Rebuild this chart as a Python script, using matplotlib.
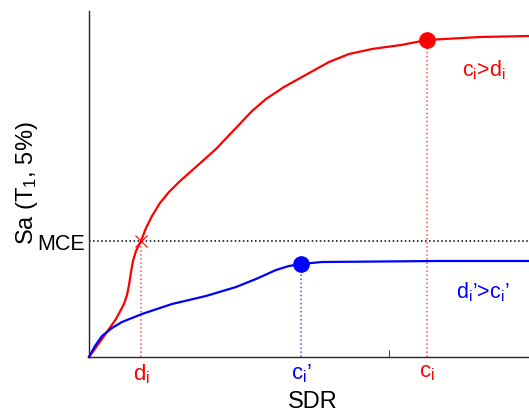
import numpy as np
import matplotlib
matplotlib.use('Agg')
import matplotlib.pyplot as plt

plt.rcParams['font.family'] = ['Liberation Sans', 'DejaVu Sans']
plt.rcParams['mathtext.fontset'] = 'custom'
plt.rcParams['mathtext.rm'] = 'Liberation Sans'
plt.rcParams['mathtext.it'] = 'Liberation Sans'
plt.rcParams['mathtext.default'] = 'regular'

# curves (arbitrary SDR / Sa units)
sdr_red = [0, 0.217, 0.45, 0.583, 0.633, 0.667, 0.70, 0.733, 0.783, 0.867, 0.95, 1.05,
           1.183, 1.333, 1.5, 1.8, 2.117, 2.417, 2.717, 2.95, 3.25, 3.55, 4.0, 4.333,
           4.717, 5.2, 5.633, 6.517, 7.333]
sa_red = [0, 0.18, 0.38, 0.53, 0.62, 0.72, 0.85, 0.96, 1.06, 1.16, 1.29, 1.41,
          1.54, 1.65, 1.75, 1.91, 2.08, 2.27, 2.46, 2.58, 2.70, 2.80, 2.95, 3.03,
          3.08, 3.12, 3.17, 3.20, 3.21]

sdr_blue = [0, 0.1, 0.217, 0.383, 0.55, 0.883, 1.383, 1.95, 2.45, 2.783, 3.117, 3.333,
            3.533, 3.883, 5.833, 7.333]
sa_blue = [0, 0.11, 0.21, 0.29, 0.35, 0.43, 0.53, 0.61, 0.70, 0.78, 0.87, 0.91,
           0.93, 0.95, 0.96, 0.96]

sa_mce = 1.16
d_i = 0.867     # red curve crosses MCE
c_i = 5.633     # red collapse point
c_ip = 3.533    # blue collapse point
sa_ci = 3.17
sa_cip = 0.93

fig = plt.figure(figsize=(5.29, 4.14), dpi=100)
ax = fig.add_axes([89/529, 56/414, 600/529, 346/414])
ax.set_xlim(0, 10)
ax.set_ylim(0, 3.46)

ax.plot(sdr_red, sa_red, color='red', lw=1.6, zorder=3, clip_on=False)
ax.plot(sdr_blue, sa_blue, color='blue', lw=1.6, zorder=3, clip_on=False)

# MCE level and projections
ax.plot([0, 10], [sa_mce, sa_mce], color='black', ls=':', lw=1.1, zorder=1)
ax.plot([d_i, d_i], [0, sa_mce], color='red', ls=':', lw=1.1, alpha=0.7, zorder=1)
ax.plot([c_ip, c_ip], [0, sa_cip], color='blue', ls=':', lw=1.1, alpha=0.7, zorder=1)
ax.plot([c_i, c_i], [0, sa_ci], color='red', ls=':', lw=1.1, alpha=0.7, zorder=1)

ax.plot(d_i, sa_mce, 'x', color='red', ms=8, mew=0.8, zorder=4)
ax.plot(c_i, sa_ci, 'o', color='red', ms=11, zorder=5)
ax.plot(c_ip, sa_cip, 'o', color='blue', ms=11, zorder=5)

ax.text(6.22, 2.88, 'c$_i$>d$_i$', color='red', fontsize=15.5, ha='left', va='center')
ax.text(6.12, 0.66, 'd$_i$’>c$_i$’', color='blue', fontsize=15.5, ha='left', va='center')

ax.set_xticks([d_i, c_ip, c_i])
ax.set_xticklabels(['d$_i$', 'c$_i$’', 'c$_i$'], fontsize=16)
for lab, col in zip(ax.get_xticklabels(), ['red', 'blue', 'red']):
    lab.set_color(col)
ax.set_xticks([5.0], minor=True)
ax.tick_params(axis='x', which='major', length=0, pad=3)
ax.tick_params(axis='x', which='minor', direction='in', length=5, color='#262626')

ax.set_yticks([sa_mce])
ax.set_yticklabels(['MCE'], fontsize=15.5)
ax.tick_params(axis='y', length=0, pad=3)

ax.set_xlabel('SDR', fontsize=17, x=(313-89)/600, labelpad=4)
ax.set_ylabel('Sa (T$_1$, 5%)', fontsize=17, y=(358-183)/346, labelpad=-2)

for s in ['top', 'right']:
    ax.spines[s].set_visible(False)
for s in ['left', 'bottom']:
    ax.spines[s].set_color('#262626')
    ax.spines[s].set_linewidth(1.0)

fig.savefig('out.png', dpi=100)
